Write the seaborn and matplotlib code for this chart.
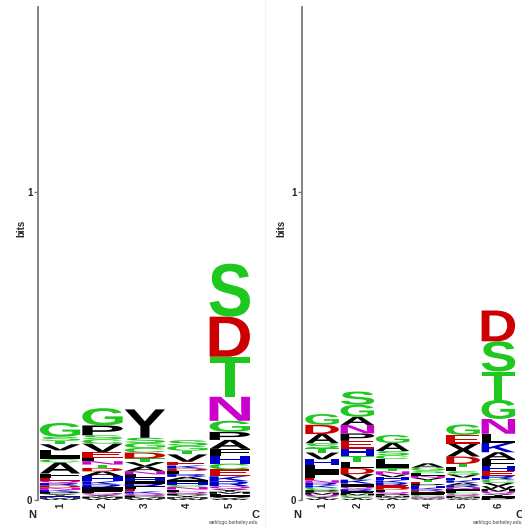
import matplotlib
matplotlib.use("Agg")
import matplotlib.pyplot as plt
import seaborn as sns
from matplotlib.textpath import TextPath
from matplotlib.patches import PathPatch
from matplotlib.font_manager import FontProperties
from matplotlib.transforms import Affine2D, blended_transform_factory
from matplotlib.lines import Line2D

# Information content per residue, each column listed from the top of the stack down (bits)
left_pos1 = [("G", .045), ("S", .013), ("T", .011), ("V", .020), ("L", .016), ("I", .013),
             ("C", .010), ("A", .036), ("F", .013), ("E", .010), ("Q", .008), ("R", .008),
             ("D", .007), ("N", .007), ("K", .007), ("P", .006), ("Y", .006), ("H", .005),
             ("M", .005), ("W", .004)]
left_pos2 = [("G", .056), ("P", .032), ("S", .013), ("C", .014), ("V", .027), ("E", .019),
             ("L", .011), ("N", .011), ("T", .011), ("D", .011), ("A", .016), ("H", .016),
             ("K", .011), ("R", .009), ("I", .009), ("F", .009), ("Q", .006), ("Y", .006),
             ("M", .006), ("W", .005)]
left_pos3 = [("Y", .092), ("S", .017), ("G", .016), ("C", .015), ("D", .019), ("T", .012),
             ("V", .014), ("A", .016), ("N", .010), ("L", .010), ("H", .012), ("I", .008),
             ("R", .009), ("F", .008), ("E", .008), ("K", .007), ("Q", .006), ("P", .006),
             ("M", .005), ("W", .004)]
left_pos4 = [("S", .018), ("G", .016), ("T", .012), ("V", .024), ("E", .012), ("K", .010),
             ("D", .008), ("L", .010), ("R", .009), ("A", .010), ("I", .008), ("H", .008),
             ("C", .007), ("N", .008), ("F", .007), ("Q", .006), ("P", .006), ("Y", .006),
             ("M", .005), ("W", .004)]
left_pos5 = [("S", .172), ("D", .130), ("T", .130), ("N", .078), ("G", .036), ("P", .026),
             ("A", .029), ("F", .022), ("H", .026), ("C", .019), ("E", .022), ("K", .016),
             ("R", .016), ("Q", .010), ("Y", .008), ("M", .007), ("L", .006), ("I", .005),
             ("V", .005), ("W", .004)]

right_pos1 = [("G", .035), ("D", .030), ("A", .030), ("S", .016), ("T", .014), ("V", .022),
              ("H", .019), ("L", .016), ("I", .014), ("F", .010), ("E", .009), ("N", .008),
              ("R", .008), ("K", .008), ("C", .008), ("P", .008), ("M", .007), ("Q", .006),
              ("Y", .006), ("W", .005)]
right_pos2 = [("S", .043), ("G", .039), ("A", .027), ("N", .027), ("P", .024), ("E", .025),
              ("H", .023), ("T", .022), ("L", .018), ("D", .020), ("V", .018), ("K", .013),
              ("I", .010), ("Q", .008), ("R", .007), ("F", .007), ("M", .006), ("C", .006),
              ("Y", .005), ("W", .004)]
right_pos3 = [("G", .026), ("A", .026), ("S", .014), ("C", .012), ("L", .018), ("I", .012),
              ("T", .010), ("N", .010), ("V", .009), ("H", .010), ("K", .008), ("R", .008),
              ("E", .008), ("D", .007), ("F", .007), ("Q", .006), ("P", .006), ("M", .005),
              ("Y", .005), ("W", .004)]
right_pos4 = [("A", .014), ("G", .009), ("S", .009), ("L", .008), ("N", .007), ("V", .007),
              ("T", .007), ("E", .006), ("P", .006), ("H", .006), ("K", .005), ("R", .005),
              ("D", .005), ("I", .005), ("F", .004), ("C", .004), ("Q", .004), ("M", .003),
              ("Y", .003), ("W", .002)]
right_pos5 = [("G", .034), ("E", .028), ("X", .042), ("D", .024), ("T", .011), ("L", .013),
              ("S", .010), ("V", .010), ("H", .009), ("K", .008), ("A", .008), ("R", .007),
              ("N", .006), ("I", .006), ("F", .005), ("C", .005), ("Q", .005), ("P", .004),
              ("M", .004), ("Y", .003), ("W", .003)]
right_pos6 = [("D", .100), ("S", .098), ("T", .092), ("G", .062), ("N", .048), ("L", .030),
              ("K", .030), ("A", .022), ("F", .024), ("H", .016), ("E", .014), ("R", .012),
              ("C", .011), ("V", .011), ("W", .009), ("M", .009), ("Q", .008), ("Y", .006),
              ("I", .006), ("P", .007)]

left_columns = [left_pos1, left_pos2, left_pos3, left_pos4, left_pos5]
right_columns = [right_pos1, right_pos2, right_pos3, right_pos4, right_pos5, right_pos6]

y_ticks = [0, 1]
y_tick_labels = ["0", "1"]

# Residue colouring by chemical property
GREEN, RED, MAGENTA, BLUE, BLACK = "#1fc81f", "#cc0000", "#cc00cc", "#0000cc", "#000000"
residue_colors = {}
for aa in "GSTC":
    residue_colors[aa] = GREEN
for aa in "DE":
    residue_colors[aa] = RED
for aa in "NQ":
    residue_colors[aa] = MAGENTA
for aa in "KRH":
    residue_colors[aa] = BLUE
for aa in "AVLIPWFMYX":
    residue_colors[aa] = BLACK

sns.set_style("white")
plt.rcParams["font.family"] = ["Liberation Sans", "DejaVu Sans"]

GLYPH_FONT = FontProperties(family="Liberation Sans", weight="bold")
LABEL_FONT = dict(fontsize=7, fontweight="bold", family="Liberation Sans")
AXIS_GREY = "#7a7a7a"


def draw_letter(ax, letter, x, y, height, width=0.95):
    glyph = TextPath((0, 0), letter, size=1, prop=GLYPH_FONT)
    bb = glyph.get_extents()
    tf = (Affine2D()
          .translate(-bb.x0, -bb.y0)
          .scale(width / bb.width, height / bb.height)
          .translate(x - width / 2, y))
    ax.add_patch(PathPatch(tf.transform_path(glyph), facecolor=residue_colors[letter],
                           edgecolor="none", lw=0))


def draw_logo(ax, columns, x_left, label_x):
    n = len(columns)
    for pos, stack in enumerate(columns, start=1):
        base = 0.0
        for letter, bits in reversed(stack):
            draw_letter(ax, letter, pos, base, bits)
            base += bits
    ax.set_xlim(x_left, n + 0.5)
    ax.set_ylim(0, 1.6)
    sns.despine(ax=ax, left=False, bottom=True, right=True, top=True)
    ax.spines["left"].set_color(AXIS_GREY)
    ax.spines["left"].set_linewidth(1.3)
    ax.set_yticks(y_ticks)
    ax.set_yticklabels(y_tick_labels, **LABEL_FONT)
    ax.tick_params(axis="y", direction="out", length=3, width=1, color=AXIS_GREY, pad=1,
                   left=True)
    ax.set_xticks(range(1, n + 1))
    ax.set_xticklabels([str(i) for i in range(1, n + 1)], rotation=90, **LABEL_FONT)
    ax.tick_params(axis="x", length=0, pad=2)
    ax.set_ylabel("bits", **LABEL_FONT)
    ax.yaxis.set_label_coords(label_x, 0.55)
    trans = blended_transform_factory(ax.transData, ax.transAxes)
    ax.text(x_left - 0.14, -0.03, "N", transform=trans, ha="center", va="center",
            fontsize=8, fontweight="bold")
    ax.text(n + 0.6, -0.03, "C", transform=trans, ha="center", va="center",
            fontsize=8, fontweight="bold")
    ax.text(n + 0.65, -0.045, "weblogo.berkeley.edu", transform=trans, ha="right",
            va="center", fontsize=3.6, color="#444444")
    ax.set_facecolor("white")


fig = plt.figure(figsize=(5.22, 5.29), dpi=100)
fig.patch.set_facecolor("white")
ax_left = fig.add_axes([38 / 522, 1 - 500 / 529, 213 / 522, 493 / 529])
ax_right = fig.add_axes([302 / 522, 1 - 500 / 529, 214 / 522, 493 / 529])
draw_logo(ax_left, left_columns, 0.48, -0.056)
draw_logo(ax_right, right_columns, 0.43, -0.075)
fig.add_artist(Line2D([265 / 522, 265 / 522], [0, 1], color="#f3f3f3", lw=0.8))

fig.savefig("out.png", dpi=100, facecolor="white")
